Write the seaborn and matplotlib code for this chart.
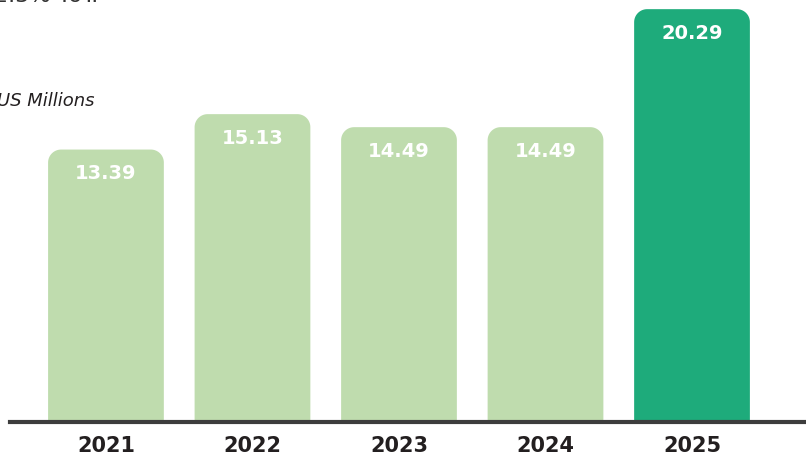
import matplotlib
matplotlib.use("Agg")
import matplotlib.pyplot as plt
import seaborn as sns
import pandas as pd
import numpy as np
from matplotlib.patches import PathPatch
from matplotlib.path import Path

years = ["2021", "2022", "2023", "2024", "2025"]
values = [13.39, 15.13, 14.49, 14.49, 20.29]
labels = ["13.39", "15.13", "14.49", "14.49", "20.29"]
highlight = [False, False, False, False, True]

LIGHT = "#bfdcae"
DARK = "#1eab7b"

sns.set_theme(style="white")
plt.rcParams["font.family"] = ["DejaVu Sans"]

W, H, DPI = 806, 455, 100
fig = plt.figure(figsize=(W / DPI, H / DPI), dpi=DPI)
ax_left, ax_bottom = 10, 33
ax = fig.add_axes([ax_left / W, ax_bottom / H, (W - ax_left) / W, (H - ax_bottom) / H])

df = pd.DataFrame({"year": years, "value": values,
                   "grp": ["hi" if h else "lo" for h in highlight]})
sns.barplot(data=df, x="year", y="value", hue="grp",
            palette={"lo": LIGHT, "hi": DARK}, width=0.79, dodge=False,
            legend=False, ax=ax, saturation=1)

xmin, xmax = -0.655, 4.778
ymax = 20.74
ax.set_xlim(xmin, xmax)
ax.set_ylim(0, ymax)

px_per_x = (W - ax_left) / (xmax - xmin)
px_per_y = (H - ax_bottom) / ymax
r_px = 13

for p in list(ax.patches):
    x, y0 = p.get_x(), p.get_y()
    w, h = p.get_width(), p.get_height()
    if h <= 0:
        continue
    fc = p.get_facecolor()
    p.set_visible(False)
    rx = r_px / px_per_x
    ry = r_px / px_per_y
    top = y0 + h
    t = np.linspace(0, np.pi / 2, 20)
    # top-left corner arc (from left side up to top)
    tl = np.column_stack([x + rx - rx * np.cos(t), top - ry + ry * np.sin(t)])
    # top-right corner arc (from top down to right side)
    tr = np.column_stack([x + w - rx + rx * np.sin(t), top - ry + ry * np.cos(t)])
    verts = np.vstack([[[x, y0]], tl, tr, [[x + w, y0]], [[x, y0]]])
    codes = [Path.MOVETO] + [Path.LINETO] * (len(verts) - 2) + [Path.CLOSEPOLY]
    ax.add_patch(PathPatch(Path(verts, codes), facecolor=fc,
                           edgecolor="none", zorder=2))

for i, (v, lab) in enumerate(zip(values, labels)):
    ax.text(i, v - 24 / px_per_y, lab, ha="center", va="center",
            color="white", fontsize=14, fontweight="bold", zorder=3)

sns.despine(ax=ax, left=True)
ax.spines["bottom"].set_color("#3d3d3d")
ax.spines["bottom"].set_linewidth(3)
ax.spines["bottom"].set_zorder(4)
ax.set_yticks([])
ax.set_xlabel("")
ax.set_ylabel("")
ax.tick_params(axis="x", length=0, pad=10)
for t in ax.get_xticklabels():
    t.set_fontsize(15)
    t.set_fontweight("bold")
    t.set_color("#231f20")

fig.text(-3 / W, 1 - 101 / H, "US Millions", ha="left", va="center",
         fontsize=13, style="italic", color="#231f20")
fig.text(-6 / W, 1 - 1.5 / H, "2.3% YoY.", ha="left", va="baseline",
         fontsize=16, color="#333333")

fig.savefig("out.png", dpi=DPI)
